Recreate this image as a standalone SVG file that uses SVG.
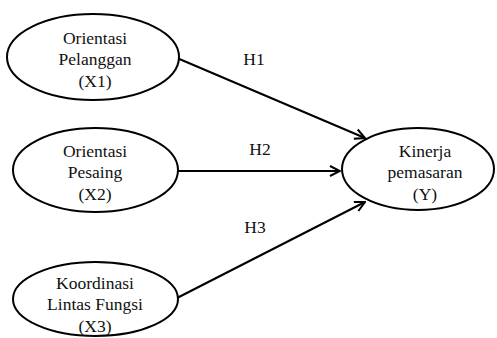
<svg xmlns="http://www.w3.org/2000/svg" width="497" height="338" viewBox="0 0 497 338">
<style>
.node ellipse{fill:#fff;stroke:#000;stroke-width:2}
text{font-family:"Liberation Serif","Times New Roman",serif;font-size:17.5px;fill:#111;text-anchor:middle}
.conn line{stroke:#000;stroke-width:2}
</style>
<defs>
<marker id="arr" viewBox="0 0 12 12" refX="11" refY="6" markerWidth="12" markerHeight="12" markerUnits="userSpaceOnUse" orient="auto">
<path d="M1,1 L11,6 L1,11" fill="none" stroke="#000" stroke-width="2" stroke-linejoin="miter"/>
</marker>
</defs>
<rect width="497" height="338" fill="#fff"/>
<g class="conn" id="connectors">
<line x1="177" y1="58" x2="365" y2="138" marker-end="url(#arr)"/>
<line x1="178" y1="171" x2="340" y2="171" marker-end="url(#arr)"/>
<line x1="177" y1="298" x2="365" y2="202" marker-end="url(#arr)"/>
<text x="254" y="65">H1</text>
<text x="260" y="155">H2</text>
<text x="255" y="233">H3</text>
</g>
<g class="node" id="x1">
<ellipse cx="93" cy="57" rx="86" ry="43"/>
<text x="95" y="44">Orientasi</text>
<text x="95" y="65">Pelanggan</text>
<text x="95" y="87">(X1)</text>
</g>
<g class="node" id="x2">
<ellipse cx="95.5" cy="170" rx="82.5" ry="42"/>
<text x="95" y="157">Orientasi</text>
<text x="95" y="178">Pesaing</text>
<text x="95" y="200">(X2)</text>
</g>
<g class="node" id="x3">
<ellipse cx="95.5" cy="299" rx="82.5" ry="37"/>
<text x="95" y="289">Koordinasi</text>
<text x="95" y="310">Lintas Fungsi</text>
<text x="95" y="332">(X3)</text>
</g>
<g class="node" id="y">
<ellipse cx="418" cy="169" rx="76" ry="41"/>
<text x="425" y="157">Kinerja</text>
<text x="425" y="178">pemasaran</text>
<text x="425" y="200">(Y)</text>
</g>
</svg>
